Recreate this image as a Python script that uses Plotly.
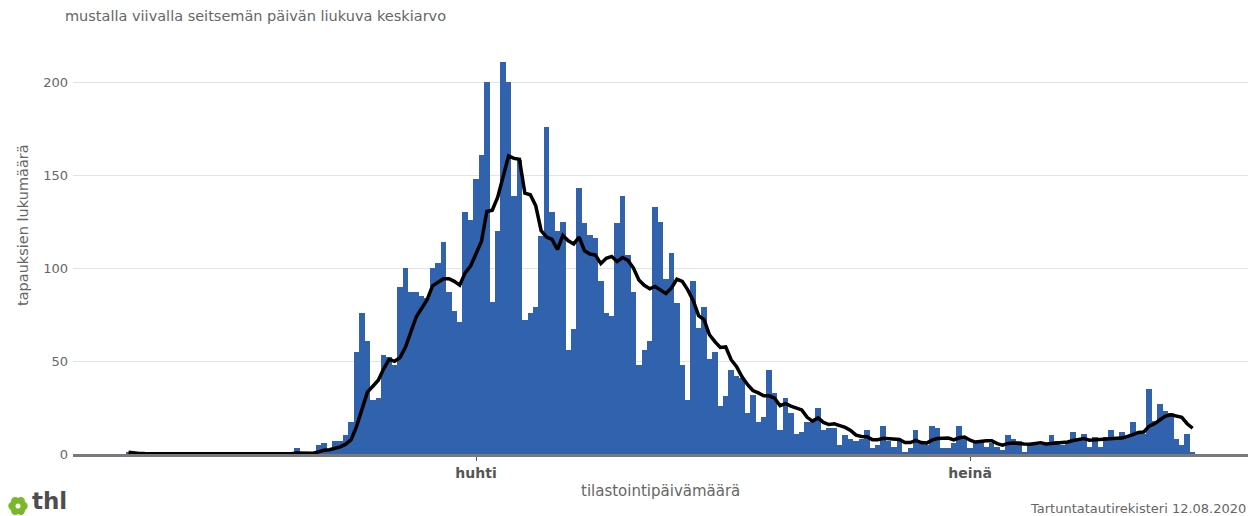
import math
import pandas as pd
import plotly.graph_objects as go

# ---- data (daily case counts) ----
start_date = "2020-01-28"
jan = [1, 0, 0, 0]
feb = [0, 0, 0, 0, 0, 0, 0, 0, 0, 1,
       0, 0, 0, 0, 0, 0, 0, 0, 0, 0,
       0, 1, 0, 0, 0, 0, 0, 3, 0]
mar = [0, 0, 5, 6, 2, 7, 7, 10, 17, 55,
       76, 61, 29, 30, 53, 52, 48, 90, 100, 87,
       87, 85, 84, 100, 103, 114, 87, 77, 71, 130,
       126]
apr = [148, 161, 200, 82, 120, 211, 200, 139, 158, 72,
       76, 79, 117, 176, 130, 120, 125, 56, 67, 143,
       124, 118, 116, 93, 76, 74, 124, 139, 107, 87]
may = [48, 56, 61, 133, 125, 94, 108, 81, 48, 29,
       93, 68, 79, 51, 55, 26, 31, 45, 42, 41,
       22, 32, 17, 20, 45, 33, 13, 30, 22, 11,
       12]
jun = [17, 19, 25, 13, 14, 14, 5, 10, 8, 7,
       8, 13, 3, 5, 15, 7, 4, 8, 1, 3,
       13, 7, 5, 15, 14, 3, 3, 6, 15, 8]
jul = [3, 7, 7, 4, 6, 4, 2, 10, 8, 7,
       1, 5, 6, 5, 6, 10, 7, 5, 6, 12,
       7, 11, 4, 9, 4, 9, 13, 9, 12, 9,
       17]
aug = [12, 11, 35, 18, 27, 23, 22, 8, 5, 11, 1]

tick_dates = ["2020-04-01", "2020-07-01"]
tick_labels = ["huhti", "heinä"]
y_ticks = [0, 50, 100, 150, 200]

cases = jan + feb + mar + apr + may + jun + jul + aug
dates = pd.date_range(start_date, periods=len(cases), freq="D")
# seven-day (trailing) moving average of the daily counts, as in the chart
moving_avg = pd.Series(cases).rolling(7, min_periods=1).mean()

# page has an 8px body margin: the figure sits at (8, 8) in the window
OFF = 8
W, H = 1257 - OFF, 516 - OFF
PL, PR, PT, PB = 73, 1248, 45, 454          # plot area in window pixels
L, R, T, B = PL - OFF, W - (PR - OFF), PT - OFF, H - (PB - OFF)
pw, ph = W - L - R, H - T - B


def px(x):  # window pixel -> paper x
    return (x - PL) / pw


def py(y):  # window pixel -> paper y
    return (PB - y) / ph


ref = pd.Timestamp("2020-04-01")
x_range = [ref + pd.Timedelta(days=-74.23), ref + pd.Timedelta(days=142.2)]

FONT = "DejaVu Sans"
GRAY = "#666666"

fig = go.Figure()
fig.add_trace(go.Bar(x=dates, y=cases, marker=dict(color="#3062ad", line=dict(width=0)),
                     showlegend=False))
fig.add_trace(go.Scatter(x=dates, y=moving_avg, mode="lines",
                         line=dict(color="black", width=3.5), showlegend=False))

fig.update_layout(
    width=W, height=H,
    margin=dict(l=L, r=R, t=T, b=B, autoexpand=False),
    paper_bgcolor="white", plot_bgcolor="white",
    bargap=0,
    font=dict(family=FONT, color=GRAY),
    xaxis=dict(
        type="date", range=x_range, showgrid=False, zeroline=False,
        tickvals=tick_dates, ticktext=tick_labels,
        tickfont=dict(size=14, color="#555555", weight="bold"),
        ticks="outside", ticklen=4, tickcolor="#555555",
        showline=True, linecolor="#7a7a7a", linewidth=3,
    ),
    yaxis=dict(
        range=[0, 220], tickvals=y_ticks, showgrid=True, gridcolor="#e3e3e3",
        gridwidth=1, zeroline=False, showline=False,
        tickfont=dict(size=13, color=GRAY), ticks="", ticklabelstandoff=4,
    ),
)

annotations = [
    dict(text="mustalla viivalla seitsemän päivän liukuva keskiarvo", x=px(63), y=py(16),
         xanchor="left", yanchor="middle", font=dict(size=14.5, color=GRAY)),
    dict(text="tapauksien lukumäärä", x=px(23), y=py(225), textangle=-90,
         xanchor="center", yanchor="middle", font=dict(size=14.5, color=GRAY)),
    dict(text="tilastointipäivämäärä", x=px(660), y=py(491),
         xanchor="center", yanchor="middle", font=dict(size=15, color=GRAY)),
    dict(text="Tartuntatautirekisteri 12.08.2020", x=px(1248), y=py(509),
         xanchor="right", yanchor="middle", font=dict(size=13, color=GRAY)),
    dict(text="<b>thl</b>", x=px(30), y=py(516), xanchor="left", yanchor="bottom",
         font=dict(size=23, color="#4d4d4f")),
]
for a in annotations:
    a.update(xref="paper", yref="paper", showarrow=False)
fig.update_layout(annotations=annotations)

# thl logo flower
shapes = []
cx, cy = 18, 506
for k in range(6):
    ang = math.pi / 3 * k
    ox, oy = cx + 5.5 * math.cos(ang), cy + 5.5 * math.sin(ang)
    shapes.append(dict(type="circle", xref="paper", yref="paper",
                       x0=px(ox - 4.2), x1=px(ox + 4.2), y0=py(oy + 4.2), y1=py(oy - 4.2),
                       fillcolor="#78b829", line=dict(width=0)))
shapes.append(dict(type="circle", xref="paper", yref="paper",
                   x0=px(cx - 2.5), x1=px(cx + 2.5), y0=py(cy + 2.5), y1=py(cy - 2.5),
                   fillcolor="white", line=dict(width=0)))
fig.update_layout(shapes=shapes)

fig.write_html("out.html")
